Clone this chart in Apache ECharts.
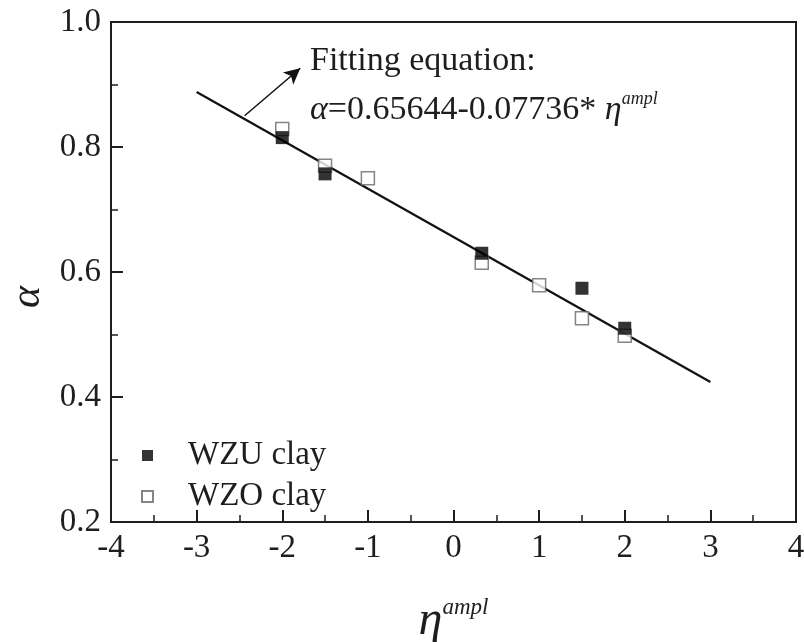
<!DOCTYPE html>
<html><head><meta charset="utf-8">
<script src="https://cdn.jsdelivr.net/npm/echarts@6/dist/echarts.min.js"></script>
<style>html,body{margin:0;padding:0;background:#fff}#c{width:804px;height:642px}</style>
</head><body><div id="c"></div>
<script>
const xTicks = [-4,-3,-2,-1,0,1,2,3,4];
const yTicks = [0.2,0.4,0.6,0.8,1.0];
const wzuX = [-2.0,-1.5,0.33,1.5,2.0];
const wzuY = [0.815,0.757,0.630,0.574,0.510];
const wzoX = [-2.0,-1.5,-1.0,0.33,1.0,1.5,2.0];
const wzoY = [0.829,0.770,0.750,0.615,0.579,0.526,0.498];
const fitX = [-3,3];
const fitY = [0.888,0.424];
const arrowFrom = [-2.44,0.850];
const arrowTo = [-1.79,0.926];
const F = '"Liberation Serif","Times New Roman",serif';
const C = '#1e1e1e';
const chart = echarts.init(document.getElementById('c'));
const zip = (a,b)=>a.map((v,i)=>[v,b[i]]);
chart.setOption({
  animation:false,
  backgroundColor:'#fff',
  grid:{left:111,right:8,top:22,bottom:120,containLabel:false,outerBoundsMode:'none',show:true,borderColor:C,borderWidth:2,backgroundColor:'transparent'},
  xAxis:{type:'value',min:-4,max:4,interval:1,
    axisLine:{show:true,onZero:false,lineStyle:{color:C,width:2}},
    axisTick:{show:true,inside:true,length:12,lineStyle:{color:C,width:2}},
    minorTick:{show:true,splitNumber:2,length:7,lineStyle:{color:C,width:1.5}},
    splitLine:{show:false},
    axisLabel:{fontFamily:F,fontSize:33,color:C,margin:10,formatter:v=>String(v)},
    name:'{a|η}{b|ampl}',nameLocation:'middle',nameGap:74,
    nameTextStyle:{rich:{a:{fontFamily:F,fontStyle:'italic',fontSize:48,color:C},b:{fontFamily:F,fontStyle:'italic',fontSize:23,color:C,padding:[0,0,28,0]}}}
  },
  yAxis:{type:'value',min:0.2,max:1.0,interval:0.2,
    axisLine:{show:true,onZero:false,lineStyle:{color:C,width:2}},
    axisTick:{show:true,inside:true,length:12,lineStyle:{color:C,width:2}},
    minorTick:{show:true,splitNumber:2,length:7,lineStyle:{color:C,width:1.5}},
    splitLine:{show:false},
    axisLabel:{fontFamily:F,fontSize:33,color:C,margin:10,formatter:v=>v.toFixed(1)},
    name:'α',nameLocation:'middle',nameGap:62,nameRotate:90,
    nameTextStyle:{fontFamily:F,fontStyle:'italic',fontSize:42,color:C,padding:[0,50,0,0]}
  },
  legend:{left:136,top:434,orient:'vertical',itemWidth:11,itemHeight:11,itemGap:8,
    textStyle:{fontFamily:F,fontSize:33,color:C,padding:[0,0,0,30]},
    data:['WZU clay','WZO clay']},
  series:[
    {name:'fit',type:'line',data:zip(fitX,fitY),symbol:'none',lineStyle:{color:'#111',width:2.2},z:2,
      markLine:{silent:true,symbol:['none','arrow'],symbolSize:[12,16],label:{show:false},
        lineStyle:{color:'#111',width:1.5,type:'solid'},
        data:[[{coord:arrowFrom},{coord:arrowTo}]]}},
    {name:'WZU clay',type:'scatter',data:zip(wzuX,wzuY),symbol:'rect',symbolSize:13,
      itemStyle:{color:'#000',borderColor:'#000',borderWidth:0},z:4},
    {name:'WZO clay',type:'scatter',data:zip(wzoX,wzoY),symbol:'rect',symbolSize:13,
      itemStyle:{color:'#fff',borderColor:'#666',borderWidth:1.5},z:3}
  ],
  graphic:[
    {type:'text',left:310,top:44,style:{text:'Fitting equation:',font:'34px '+F,fill:C}},
    {type:'text',left:310,top:90,style:{text:'{i|α}{n|=0.65644-0.07736*}{i| η}{s|ampl}',
      rich:{i:{fontFamily:F,fontStyle:'italic',fontSize:34,fill:C},
            n:{fontFamily:F,fontSize:34,fill:C},
            s:{fontFamily:F,fontStyle:'italic',fontSize:18,fill:C,padding:[0,0,22,0]}}}}
  ]
});
</script></body></html>
